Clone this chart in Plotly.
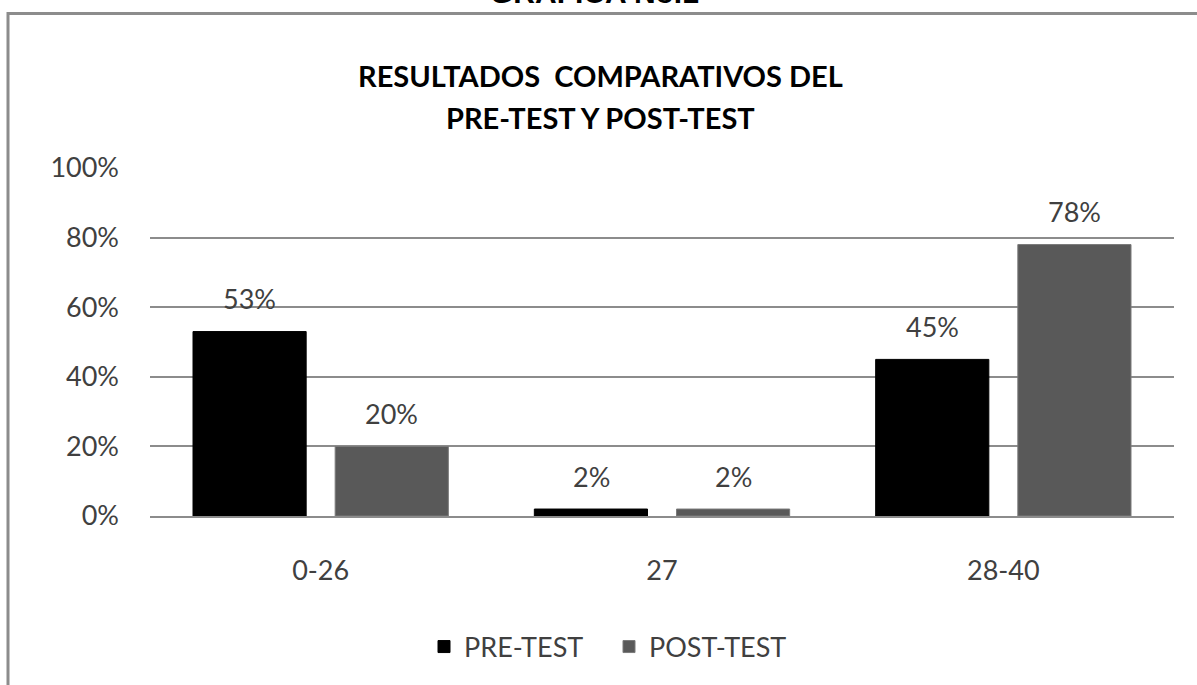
import plotly.graph_objects as go

categories = ["0-26", "27", "28-40"]
pre_test = [53, 2, 45]
post_test = [20, 2, 78]
series_names = ["PRE-TEST", "POST-TEST"]
y_ticks = [0, 20, 40, 60, 80, 100]
title_lines = ["RESULTADOS\u00a0 COMPARATIVOS DEL", "PRE-TEST Y POST-TEST"]
header = "GRAFICA No.1"

W, H = 1197, 685
L, R, T, B = 150, 23, 168, 169
PW, PH = W - L - R, H - T - B

def px_x(px):
    return (px - L) / PW

def px_y(py):
    return (H - B - py) / PH

FONT = "Lato"
TXT = "#404040"

fig = go.Figure()
fig.add_trace(go.Bar(x=categories, y=pre_test, name=series_names[0],
                     marker=dict(color="#000000", line=dict(color="#000000", width=1))))
fig.add_trace(go.Bar(x=categories, y=post_test, name=series_names[1],
                     marker=dict(color="#595959", line=dict(color="#7a7a7a", width=1))))

annotations = []
for vals, shift in ((pre_test, -71), (post_test, 71)):
    for i, v in enumerate(vals):
        annotations.append(dict(x=i, y=v, xref="x", yref="y", xshift=shift, yshift=33,
                                xanchor="center", yanchor="middle",
                                text=f"{v}%", showarrow=False,
                                font=dict(family=FONT, size=27, color=TXT)))

annotations.append(dict(x=px_x(600), y=px_y(75), xref="paper", yref="paper",
                        xanchor="center", yanchor="middle",
                        text=f"<b>{title_lines[0]}</b>", showarrow=False,
                        font=dict(family=FONT, size=29, color="#000000")))
annotations.append(dict(x=px_x(600), y=px_y(118), xref="paper", yref="paper",
                        xanchor="center", yanchor="middle",
                        text=f"<b>{title_lines[1]}</b>", showarrow=False,
                        font=dict(family=FONT, size=29, color="#000000")))
annotations.append(dict(x=px_x(594), y=px_y(11), xref="paper", yref="paper",
                        xanchor="center", yanchor="bottom",
                        text=f"<b>{header}</b>", showarrow=False,
                        font=dict(family="Liberation Sans", size=30, color="#000000")))

shapes = [
    dict(type="line", xref="paper", yref="paper", x0=px_x(7), x1=px_x(1200),
         y0=px_y(13.5), y1=px_y(13.5), line=dict(color="#8c8c8c", width=3)),
    dict(type="line", xref="paper", yref="paper", x0=px_x(8), x1=px_x(8),
         y0=px_y(12), y1=px_y(690), line=dict(color="#8c8c8c", width=3)),
]

fig.update_layout(
    width=W, height=H,
    margin=dict(l=L, r=R, t=T, b=B),
    paper_bgcolor="white", plot_bgcolor="white",
    barmode="group", bargap=0.167, bargroupgap=0.204,
    showlegend=True,
    legend=dict(orientation="h", x=px_x(424), y=px_y(647), xanchor="left", yanchor="middle",
                font=dict(family=FONT, size=27, color=TXT), itemwidth=30,
                entrywidth=140, traceorder="normal"),
    annotations=annotations,
    shapes=shapes,
    font=dict(family=FONT, color=TXT),
)
fig.update_xaxes(type="category", range=[-0.5, len(categories) - 0.5],
                 showgrid=False, showline=True, linecolor="#8c8c8c",
                 linewidth=1.5, ticks="", tickangle=0,
                 tickfont=dict(family=FONT, size=27, color=TXT),
                 ticklabelstandoff=30, automargin=False)
fig.update_yaxes(range=[0, 100], tickvals=y_ticks, ticktext=[f"{v}%" for v in y_ticks],
                 showgrid=True, gridcolor="#8c8c8c", gridwidth=1.5, zeroline=False,
                 showline=False, ticks="", tickfont=dict(family=FONT, size=27, color=TXT),
                 ticklabelstandoff=30, automargin=False)

fig.write_html("out.html", config={"displayModeBar": False},
               post_script="document.body.style.margin='0';document.body.style.overflow='hidden';")
